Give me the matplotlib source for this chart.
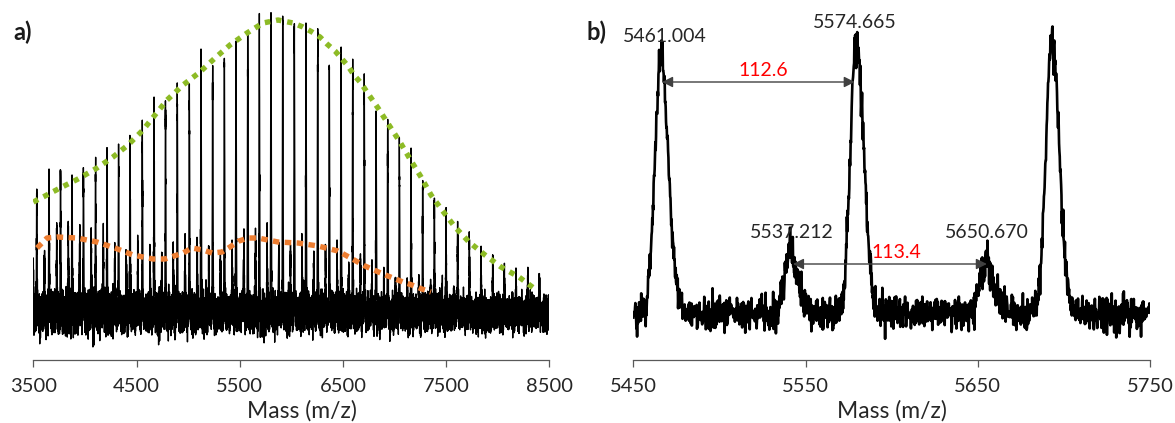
"""
Mass spectrum figure: a) full range with envelopes, b) zoom 5450-5750.
"""
import numpy as np
import matplotlib
matplotlib.use('Agg')
import matplotlib.pyplot as plt

plt.rcParams['font.family'] = ['Lato', 'DejaVu Sans']

# ---- panel a) main peak series (m/z, peak-top intensity in a.u.)
main_mz = [3533, 3652, 3764, 3875, 3986, 4103, 4214, 4326, 4437, 4556,
           4670, 4781, 4895, 5012, 5125, 5238, 5351, 5464, 5578, 5690,
           5803, 5917, 6029, 6142, 6256, 6368, 6482, 6595, 6707, 6821,
           6934, 7047, 7160, 7273, 7386, 7499, 7612, 7725, 7838, 7952,
           8064, 8177, 8291, 8403]
main_top = [160, 184, 180, 170, 183, 189, 197, 202, 214, 228,
            250, 250, 263, 268, 296, 286, 303, 313, 322, 328,
            343, 337, 332, 321, 317, 296, 298, 292, 268, 243,
            233, 211, 198, 173, 155, 144, 123, 114, 101, 98,
            86, 81, 72, 73]

# satellite series (+76 Da)
sat_mz = [3497, 3608, 3727, 3839, 3950, 4061, 4178, 4289, 4401, 4512,
          4631, 4745, 4856, 4970, 5087, 5200, 5313, 5426, 5541, 5653,
          5765, 5878, 5992, 6104, 6217, 6331, 6443, 6557, 6670, 6782,
          6896, 7009, 7122, 7235, 7348, 7461, 7574]
sat_top = [128, 105, 123, 121, 120, 113, 119, 103, 103, 105,
           100, 100, 107, 110, 110, 103, 103, 108, 117, 115,
           115, 105, 102, 110, 97, 97, 105, 87, 92, 83,
           78, 73, 70, 70, 67, 63, 62]

# envelopes
green_mz = [3500, 3613, 3759, 3933, 4117, 4272, 4418, 4563, 4679, 4796,
            4951, 5115, 5261, 5406, 5571, 5726, 5871, 6017, 6113, 6201,
            6278, 6346, 6424, 6491, 6549, 6607, 6675, 6733, 6840, 6946,
            7053, 7150, 7257, 7354, 7460, 7586, 7722, 7877, 8032, 8206, 8361]
green_int = [158, 164, 172, 181, 192, 203, 215, 230, 245, 260,
             275, 288, 302, 315, 327, 337, 340, 337, 333, 328,
             323, 316, 309, 301, 294, 285, 277, 268, 252, 235,
             218, 201, 183, 165, 150, 133, 118, 105, 93, 83, 71]
orange_mz = [3536, 3633, 3730, 3923, 4117, 4291, 4466, 4660, 4776, 4951,
             5038, 5144, 5232, 5329, 5406, 5493, 5580, 5677, 5774, 5871,
             6065, 6259, 6452, 6540, 6627, 6714, 6801, 6888, 6985, 7082,
             7169, 7266, 7353]
orange_int = [112, 122, 123, 122, 118, 112, 105, 101, 101, 107,
              112, 110, 107, 108, 113, 119, 122, 122, 120, 118,
              117, 114, 109, 104, 99, 94, 90, 86, 82, 78,
              75, 71, 68]

# ---- panel b) zoomed peaks
zoom_mz = [5466, 5541, 5579.5, 5654.5, 5693]
zoom_top = [306, 106, 316, 98, 320]
zoom_labels = ['5461.004', '5537.212', '5574.665', '5650.670']
label_pos = [(5468, 318), (5542, 122), (5578.6, 332), (5655, 122)]
diff_labels = ['112.6', '113.4']
diff_span = [(5466.7, 5578.6, 278), (5542.7, 5655.3, 96)]
diff_text_pos = [(5525.4, 284), (5602.6, 102)]

BASE = 47


def spectrum(x, centers, tops, sig_l, sig_r):
    y = np.full_like(x, BASE, dtype=float)
    for c, t in zip(centers, tops):
        s = np.where(x < c, sig_l, sig_r)
        y += (t - BASE) * np.exp(-0.5 * ((x - c) / s) ** 2)
    return y


# baseline noise texture
rng = np.random.default_rng(7)

xa = np.arange(3500, 8500.01, 0.25)
ya = spectrum(xa, main_mz + sat_mz, main_top + sat_top, 2.8, 3.4)
ya += rng.normal(0, 1, xa.size) * np.interp(xa, [3500, 8500], [9.5, 7.5])

xb = np.arange(5450, 5750.01, 0.2)
yb = spectrum(xb, zoom_mz, zoom_top, 3.4, 4.3)
yb += rng.normal(0, 8.5, xb.size)

W, H = 1175, 423
fig = plt.figure(figsize=(W / 100, H / 100), dpi=100)
ax1 = fig.add_axes([33.3 / W, 1 - 360 / H, 516 / W, 350 / H])
ax2 = fig.add_axes([633.3 / W, 1 - 360 / H, 516.7 / W, 350 / H])

ax1.plot(xa, ya, color='black', lw=1.0)
ax1.plot(green_mz, green_int, color='#8DBB25', lw=3.9,
         linestyle=(0, (1, 1.1)), dash_capstyle='butt', zorder=3)
ax1.plot(orange_mz, orange_int, color='#ED7D31', lw=3.9,
         linestyle=(0, (1.2, 1.0)), dash_capstyle='butt', zorder=3)
ax1.set_xlim(3500, 8500)
ax1.set_xticks([3500, 4500, 5500, 6500, 7500, 8500])

ax2.plot(xb, yb, color='black', lw=1.9)
ax2.set_xlim(5450, 5750)
ax2.set_xticks([5450, 5550, 5650, 5750])

for txt, (x, y) in zip(zoom_labels, label_pos):
    ax2.text(x, y, txt, ha='center', va='baseline', fontsize=14,
             color='#262626')
for txt, (x0, x1, y), (tx, ty) in zip(diff_labels, diff_span, diff_text_pos):
    ax2.annotate('', xy=(x0, y), xytext=(x1, y),
                 arrowprops=dict(arrowstyle='<|-|>', color='#404040', lw=1,
                                 mutation_scale=16, shrinkA=0, shrinkB=0))
    ax2.text(tx, ty, txt, ha='center', va='baseline', fontsize=14,
             color='#FF0000')

for ax in (ax1, ax2):
    ax.set_ylim(0, 350)
    ax.set_yticks([])
    for side in ('left', 'top', 'right'):
        ax.spines[side].set_visible(False)
    ax.spines['bottom'].set_color('#595959')
    ax.spines['bottom'].set_linewidth(0.9)
    ax.tick_params(axis='x', direction='out', length=5, width=0.9,
                   color='#595959', labelsize=14.5, labelcolor='#262626',
                   pad=8)
    ax.patch.set_alpha(0)

fig.text(301.5 / W, 1 - 418 / H, 'Mass (m/z)', ha='center', va='baseline',
         fontsize=16.5, color='#262626')
fig.text(891.5 / W, 1 - 418 / H, 'Mass (m/z)', ha='center', va='baseline',
         fontsize=16.5, color='#262626')
fig.text(13 / W, 1 - 40 / H, 'a)', fontsize=17, fontweight='bold',
         va='baseline', color='#1a1a1a')
fig.text(587 / W, 1 - 40 / H, 'b)', fontsize=17, fontweight='bold',
         va='baseline', color='#1a1a1a')

fig.savefig('out.png', dpi=100)
